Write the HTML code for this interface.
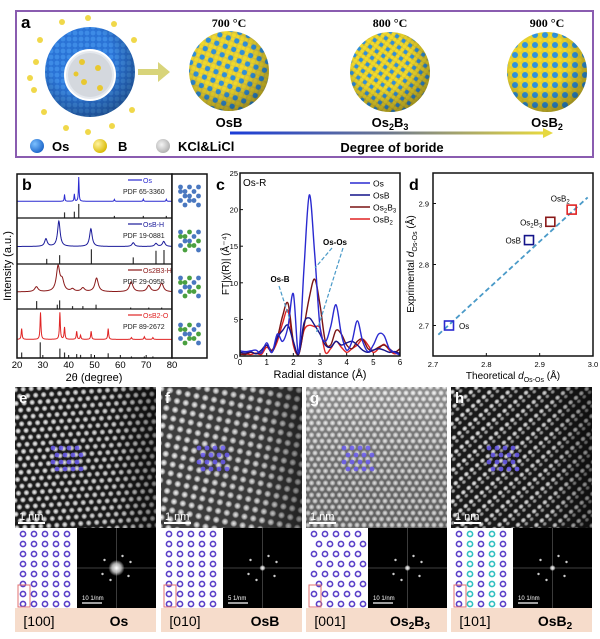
<!DOCTYPE html>
<html><head><meta charset="utf-8">
<style>
html,body{margin:0;padding:0;background:#fff;}
svg{display:block;font-family:"Liberation Sans",Arial,sans-serif;}
.serif{font-family:"Liberation Serif",serif;}
</style></head>
<body>
<svg id="fig" width="600" height="639" viewBox="0 0 600 639" xmlns="http://www.w3.org/2000/svg">
<defs>
  <pattern id="p-osb" width="9" height="9" patternUnits="userSpaceOnUse" patternTransform="rotate(20)">
    <rect width="9" height="9" fill="#d8c440"/>
    <circle cx="2.5" cy="2.5" r="2.6" fill="#2f8fd8"/>
    <circle cx="7" cy="7" r="2.2" fill="#f0d92a"/>
    <circle cx="7" cy="2" r="1.6" fill="#f0d92a"/>
    <circle cx="2" cy="7" r="1.6" fill="#f0d92a"/>
  </pattern>
  <pattern id="p-os2b3" width="8" height="8" patternUnits="userSpaceOnUse" patternTransform="rotate(35)">
    <rect width="8" height="8" fill="#c9b83c"/>
    <circle cx="2" cy="2" r="2" fill="#2f8fd8"/>
    <circle cx="6" cy="6" r="2.2" fill="#f0d92a"/>
    <circle cx="6" cy="2" r="1.8" fill="#f0d92a"/>
    <circle cx="2" cy="6" r="1.8" fill="#f0d92a"/>
  </pattern>
  <pattern id="p-osb2" width="10" height="10" patternUnits="userSpaceOnUse">
    <rect width="10" height="10" fill="#e6d030"/>
    <circle cx="5" cy="5" r="3" fill="#2f93dc"/>
    <circle cx="0" cy="0" r="1.8" fill="#f3dc2c"/>
    <circle cx="10" cy="0" r="1.8" fill="#f3dc2c"/>
    <circle cx="0" cy="10" r="1.8" fill="#f3dc2c"/>
    <circle cx="10" cy="10" r="1.8" fill="#f3dc2c"/>
    <circle cx="5" cy="0" r="1.5" fill="#f3dc2c"/>
    <circle cx="0" cy="5" r="1.5" fill="#f3dc2c"/>
  </pattern>
  <pattern id="p-shell" width="6" height="6" patternUnits="userSpaceOnUse">
    <rect width="6" height="6" fill="#2a73d6"/>
    <circle cx="3" cy="3" r="2.4" fill="#3d8be6"/>
  </pattern>
  <radialGradient id="shade" cx="0.4" cy="0.35" r="0.7">
    <stop offset="0.5" stop-color="#000" stop-opacity="0"/>
    <stop offset="1" stop-color="#000" stop-opacity="0.35"/>
  </radialGradient>
  <radialGradient id="ballB" cx="0.35" cy="0.35" r="0.7"><stop offset="0" stop-color="#fff3a0"/><stop offset="1" stop-color="#d8b800"/></radialGradient>
  <radialGradient id="ballOs" cx="0.35" cy="0.35" r="0.7"><stop offset="0" stop-color="#7cc0ff"/><stop offset="1" stop-color="#1a64c8"/></radialGradient>
  <radialGradient id="ballK" cx="0.4" cy="0.4" r="0.7"><stop offset="0" stop-color="#f4f4f4"/><stop offset="1" stop-color="#a8a8a8"/></radialGradient>
  <linearGradient id="boride" x1="0" x2="1"><stop offset="0" stop-color="#1a3cd8"/><stop offset="0.5" stop-color="#6d7890"/><stop offset="1" stop-color="#e6d840"/></linearGradient>
  <radialGradient id="atom" cx="0.5" cy="0.5" r="0.5"><stop offset="0" stop-color="#fff" stop-opacity="1"/><stop offset="0.55" stop-color="#ddd" stop-opacity="0.8"/><stop offset="1" stop-color="#fff" stop-opacity="0"/></radialGradient>
  <pattern id="tem-e" width="8" height="13.8" patternUnits="userSpaceOnUse" patternTransform="rotate(-4)">
    <rect width="8" height="13.8" fill="#1c1c1c"/>
    <circle cx="4" cy="3.45" r="3.1" fill="url(#atom)"/>
    <circle cx="0" cy="10.35" r="3.1" fill="url(#atom)"/><circle cx="8" cy="10.35" r="3.1" fill="url(#atom)"/>
  </pattern>
  <pattern id="tem-f" width="9" height="9" patternUnits="userSpaceOnUse" patternTransform="rotate(12)">
    <rect width="9" height="9" fill="#3e3e3e"/>
    <circle cx="4.5" cy="4.5" r="3.6" fill="url(#atom)"/>
  </pattern>
  <pattern id="tem-g" width="7" height="12" patternUnits="userSpaceOnUse">
    <rect width="7" height="12" fill="#6c6c6c"/>
    <circle cx="3.5" cy="3" r="3" fill="url(#atom)"/>
    <circle cx="0" cy="9" r="3" fill="url(#atom)"/><circle cx="7" cy="9" r="3" fill="url(#atom)"/>
  </pattern>
  <pattern id="tem-h" width="7" height="12" patternUnits="userSpaceOnUse" patternTransform="rotate(-40)">
    <rect width="7" height="12" fill="#1a1a1a"/>
    <ellipse cx="3.5" cy="3" rx="3" ry="2.6" fill="url(#atom)"/>
    <ellipse cx="3.5" cy="7.5" rx="2.6" ry="2.2" fill="url(#atom)" opacity="0.7"/>
  </pattern>
  <linearGradient id="vig" x1="0" x2="1"><stop offset="0" stop-color="#000" stop-opacity="0"/><stop offset="0.7" stop-color="#000" stop-opacity="0.1"/><stop offset="1" stop-color="#000" stop-opacity="0.45"/></linearGradient>
  <linearGradient id="vigg" x1="0" y1="0" x2="0" y2="1"><stop offset="0" stop-color="#fff" stop-opacity="0.25"/><stop offset="1" stop-color="#000" stop-opacity="0.1"/></linearGradient>
  <clipPath id="clipB"><rect x="17" y="174" width="155" height="184"/></clipPath>
  <clipPath id="clipC"><rect x="240" y="173" width="160" height="183"/></clipPath>
</defs>

<!-- ========== Panel a ========== -->
<g>
  <rect x="16" y="11" width="577" height="146" fill="#fff" stroke="#8a5cb0" stroke-width="2"/>
  <text x="21" y="28" font-size="17" font-weight="bold">a</text>
  <!-- core-shell precursor -->
  <g>
    <g fill="#f0d84a">
      <circle cx="40" cy="40" r="3"/><circle cx="62" cy="22" r="3"/><circle cx="88" cy="18" r="3"/><circle cx="114" cy="24" r="3"/><circle cx="134" cy="40" r="3"/>
      <circle cx="36" cy="62" r="3"/><circle cx="34" cy="90" r="3"/><circle cx="44" cy="112" r="3"/><circle cx="66" cy="128" r="3"/><circle cx="88" cy="132" r="3"/>
      <circle cx="112" cy="126" r="3"/><circle cx="132" cy="110" r="3"/><circle cx="30" cy="78" r="3"/>
    </g>
    <circle cx="90" cy="72" r="45" fill="url(#p-shell)"/>
    <circle cx="90" cy="72" r="45" fill="url(#shade)"/>
    <circle cx="90" cy="75" r="25" fill="#e4e8ee" stroke="#fff" stroke-width="2"/>
    <circle cx="90" cy="75" r="22" fill="#d4d8de"/>
    <g fill="#e8c830"><circle cx="82" cy="62" r="3"/><circle cx="98" cy="68" r="3"/><circle cx="84" cy="82" r="3"/><circle cx="100" cy="88" r="3"/><circle cx="76" cy="74" r="2.5"/></g>
  </g>
  <polygon points="138,69 158,69 158,62 170,72 158,82 158,75 138,75" fill="#d8d47a"/>
  <g>
    <circle cx="229" cy="71" r="40" fill="url(#p-osb)"/><circle cx="229" cy="71" r="40" fill="url(#shade)"/>
  </g>
  <g>
    <circle cx="390" cy="72" r="40" fill="url(#p-os2b3)"/><circle cx="390" cy="72" r="40" fill="url(#shade)"/>
  </g>
  <g>
    <circle cx="547" cy="72" r="40" fill="url(#p-osb2)"/><circle cx="547" cy="72" r="40" fill="url(#shade)"/>
  </g>
  <g class="serif" font-size="12" font-weight="bold" text-anchor="middle">
    <text x="229" y="27">700 °C</text>
    <text x="390" y="27">800 °C</text>
    <text x="547" y="27">900 °C</text>
  </g>
  <g font-size="13" font-weight="bold" text-anchor="middle">
    <text x="229" y="127">OsB</text>
    <text x="390" y="127">Os<tspan font-size="9" dy="3">2</tspan><tspan dy="-3">B</tspan><tspan font-size="9" dy="3">3</tspan></text>
    <text x="547" y="127">OsB<tspan font-size="9" dy="3">2</tspan></text>
  </g>
  <rect x="230" y="131.5" width="314" height="3" fill="url(#boride)"/>
  <polygon points="543,128 553,133 543,138" fill="#e6d840"/>
  <circle cx="37" cy="146" r="7" fill="url(#ballOs)"/>
  <text x="52" y="151" font-size="13" font-weight="bold">Os</text>
  <circle cx="100" cy="146" r="7" fill="url(#ballB)"/>
  <text x="118" y="151" font-size="13" font-weight="bold">B</text>
  <circle cx="163" cy="146" r="7" fill="url(#ballK)"/>
  <text x="178" y="151" font-size="13" font-weight="bold">KCl&amp;LiCl</text>
  <text x="392" y="152" font-size="13" font-weight="bold" text-anchor="middle">Degree of boride</text>
</g>

<g id="panelB"></g>
<g id="panelC"></g>
<g id="panelD"></g>
<g id="panelTEM"></g>
</svg>

<script>
const NS = "http://www.w3.org/2000/svg";
const svg = document.getElementById("fig");
function mk(parent, tag, attrs, text) {
  const e = document.createElementNS(NS, tag);
  for (const k in attrs) e.setAttribute(k, attrs[k]);
  if (text !== undefined) e.textContent = text;
  parent.appendChild(e);
  return e;
}

/* ===== Panel b data (XRD) ===== */
const xrdNames = ["Os", "OsB-H", "Os2B3-H", "OsB2-O"];
const xrdPDF = ["PDF 65-3360", "PDF 19-0881", "PDF 29-0955", "PDF 89-2672"];
const xrdPeaksOs = [38.4, 42.2, 43.9, 57.7, 68.9, 77.8];
const xrdHeightsOs = [0.28, 0.3, 1.0, 0.08, 0.09, 0.08];
const xrdPeaksOsB = [31.2, 36.2, 48.6, 65.0, 73.8, 76.8];
const xrdHeightsOsB = [0.3, 1.0, 0.7, 0.15, 0.12, 0.2];
const xrdPeaksOs2B3 = [27.5, 35.9, 37.5, 41.5, 45.5, 50.8, 64.2, 71.0, 76.0];
const xrdHeightsOs2B3 = [0.2, 1.0, 0.4, 0.1, 0.15, 0.55, 0.4, 0.25, 0.35];
const xrdPeaksOsB2 = [21.8, 29.1, 36.6, 38.4, 43.1, 44.6, 48.7, 55.3, 64.3, 69.3, 72.6];
const xrdHeightsOsB2 = [0.4, 1.0, 1.0, 0.45, 0.3, 0.15, 0.3, 0.4, 0.07, 0.1, 0.07];
const xrdSticksOs = [38.4, 42.2, 43.9, 57.7, 68.9, 77.8];
const xrdStickHOs = [0.4, 0.45, 1.0, 0.15, 0.15, 0.15];
const xrdSticksOsB = [31.5, 36.5, 48.8, 65.0, 73.8, 76.9];
const xrdStickHOsB = [0.35, 0.6, 1.0, 0.45, 0.9, 0.95];
const xrdSticksOs2B3 = [27.6, 35.6, 36.5, 41.5, 45.5, 50.6, 64.0, 71.0, 76.0];
const xrdStickHOs2B3 = [0.55, 0.3, 0.6, 0.2, 0.2, 0.3, 0.1, 0.1, 0.1];
const xrdSticksOsB2 = [21.8, 29.0, 36.6, 38.4, 43.1, 44.6, 48.7, 55.3, 64.3, 69.3, 72.6];
const xrdStickHOsB2 = [0.35, 1.0, 0.6, 0.35, 0.25, 0.2, 0.25, 0.3, 0.1, 0.1, 0.1];
const xrdColors = ["#2a2ad0", "#1a1a9a", "#8a1818", "#e02424"];
const xrdXTicks = [20, 30, 40, 50, 60, 70, 80];

(function () {
  const g = document.getElementById("panelB");
  const L = 17, R = 172, T = 174, B = 358;
  const x = v => L + (v - 20) / 60 * (R - L);
  const bounds = [174, 218, 264, 309, 358];
  const peaks = [xrdPeaksOs, xrdPeaksOsB, xrdPeaksOs2B3, xrdPeaksOsB2];
  const hts = [xrdHeightsOs, xrdHeightsOsB, xrdHeightsOs2B3, xrdHeightsOsB2];
  const sticks = [xrdSticksOs, xrdSticksOsB, xrdSticksOs2B3, xrdSticksOsB2];
  const sth = [xrdStickHOs, xrdStickHOsB, xrdStickHOs2B3, xrdStickHOsB2];
  const widths = [0.15, 0.6, 0.8, 0.2];
  for (let i = 0; i < 4; i++) {
    const top = bounds[i], bot = bounds[i + 1], h = bot - top;
    const base = top + h * 0.62, amp = h * 0.55;
    let d = "";
    for (let t = 20; t <= 80; t += 0.1) {
      let s = 0;
      peaks[i].forEach((p, k) => { const w = widths[i]; s += hts[i][k] * w * w / ((t - p) * (t - p) + w * w); });
      d += (d ? "L" : "M") + x(t).toFixed(2) + "," + (base - s * amp).toFixed(2);
    }
    const c = mk(g, "path", { d: d, fill: "none", stroke: xrdColors[i], "stroke-width": 1, "clip-path": "url(#clipB)" });
    
    
    sticks[i].forEach((p, k) => {
      const s = mk(g, "line", { x1: x(p), x2: x(p), y1: bot, y2: bot - sth[i][k] * h * 0.32, stroke: "#333", "stroke-width": 1.2 });
      
      
    });
    if (i > 0) mk(g, "line", { x1: L, x2: R, y1: top, y2: top, stroke: "#111", "stroke-width": 1.2 });
    const lx = 128, ly = top + 9;
    mk(g, "line", { x1: lx, x2: lx + 14, y1: ly - 3, y2: ly - 3, stroke: xrdColors[i], "stroke-width": 1.2 });
    const nm = xrdNames[i];
    const lt = mk(g, "text", { x: lx + 15, y: ly, "font-size": 7, fill: xrdColors[i] }, nm);
    
    
    const pt = mk(g, "text", { x: 123, y: ly + 11, "font-size": 7, fill: "#222" }, xrdPDF[i]);
    
    
  }
  mk(g, "rect", { x: L, y: T, width: R - L, height: B - T, fill: "none", stroke: "#111", "stroke-width": 1.5 });
  mk(g, "rect", { x: R, y: T, width: 35, height: B - T, fill: "#fff", stroke: "#111", "stroke-width": 1.5 });
  // crystal structure icons
  const cy = [196, 241, 287, 334];
  cy.forEach((yc, i) => {
    const gg = mk(g, "g", {});
    
    
    for (let a = 0; a < 14; a++) {
      const dx = ((a * 7) % 5 - 2) * 4.5, dy = (Math.floor(a / 3) - 2) * 4.5;
      mk(gg, "circle", { cx: 189.5 + dx, cy: yc + dy, r: 2.4, fill: (i > 0 && a % 2) ? "#4aa040" : "#4a78c0" });
    }
  });
  const bl = mk(g, "text", { x: 22, y: 190, "font-size": 16, "font-weight": "bold" }, "b");
  
  
  xrdXTicks.forEach(v => {
    mk(g, "line", { x1: x(v), x2: x(v), y1: B, y2: B - 3, stroke: "#111" });
    const t = mk(g, "text", { x: x(v), y: 368, "font-size": 9.5, "text-anchor": "middle" }, v);
    
    
  });
  const xt = mk(g, "text", { x: 94, y: 381, "font-size": 11, "text-anchor": "middle" }, "2θ (degree)");
  
  
  const yt = mk(g, "text", { x: 11, y: 266, "font-size": 11, "text-anchor": "middle", transform: "rotate(-90 11 266)" }, "Intensity (a.u.)");
  
  
})();

/* ===== Panel c data (EXAFS) ===== */
const exafsR = [0,0.2,0.4,0.6,0.8,1.0,1.2,1.4,1.6,1.8,2.0,2.2,2.4,2.6,2.8,3.0,3.2,3.4,3.6,3.8,4.0,4.2,4.4,4.6,4.8,5.0,5.2,5.4,5.6,5.8,6.0];
const exafsOs = [0.7,0.6,0.7,0.8,0.4,1.8,0.5,3.0,2.0,4.0,8.5,0.4,12,22,14,4,2,4,7,3,0.8,2,4.8,2,0.6,1.5,3,2.8,1,0.5,0.1];
const exafsOsB = [0.5,0.4,0.6,0.3,0.8,1.5,0.5,2.5,3.5,4.2,2.0,0.3,4.5,5.2,4.2,3.0,1.5,1.2,2.0,1.5,1.8,2.0,1.5,0.8,0.5,0.8,1.0,0.8,0.5,0.6,0.3];
const exafsOs2B3 = [0.3,0.2,0.5,0.3,0.5,1.5,0.8,2.5,5.5,7.2,2.0,0.2,4.0,8.0,10.5,7.0,2.0,1.5,3.5,3.0,1.5,1.0,2.0,2.3,1.0,0.8,1.2,1.5,1.0,0.5,1.0];
const exafsOsB2 = [0.2,0.3,0.2,0.4,0.2,1.2,0.6,2.0,4.5,6.2,1.5,0.3,3.5,4.2,4.0,3.8,0.5,1.0,2.0,1.2,0.5,1.0,1.5,2.3,1.5,0.5,1.0,1.6,0.8,0.3,0.5];
const exafsNames = ["Os", "OsB", "Os2B3", "OsB2"];
const exafsColors = ["#2a2ad0", "#14148a", "#7a1414", "#e02424"];
const exafsYTicks = [0, 5, 10, 15, 20, 25];
const exafsXTicks = [0, 1, 2, 3, 4, 5, 6];

(function () {
  const g = document.getElementById("panelC");
  const L = 240, R = 400, T = 173, B = 356;
  const x = v => L + v / 6 * (R - L);
  const y = v => B - v / 25 * (B - T);
  const series = [exafsOs, exafsOsB, exafsOs2B3, exafsOsB2];
  function smooth(xs, ys) {
    const p = xs.map((v, i) => [x(v), y(ys[i])]);
    let d = "M" + p[0][0] + "," + p[0][1];
    for (let i = 0; i < p.length - 1; i++) {
      const p0 = p[Math.max(0, i - 1)], p1 = p[i], p2 = p[i + 1], p3 = p[Math.min(p.length - 1, i + 2)];
      const c1 = [p1[0] + (p2[0] - p0[0]) / 6, p1[1] + (p2[1] - p0[1]) / 6];
      const c2 = [p2[0] - (p3[0] - p1[0]) / 6, p2[1] - (p3[1] - p1[1]) / 6];
      d += "C" + c1.join(",") + " " + c2.join(",") + " " + p2.join(",");
    }
    return d;
  }
  [3, 2, 1, 0].forEach(i => {
    const c = mk(g, "path", { d: smooth(exafsR, series[i]), fill: "none", stroke: exafsColors[i], "stroke-width": 1.4, "clip-path": "url(#clipC)" });
    
    
  });
  mk(g, "rect", { x: L, y: T, width: R - L, height: B - T, fill: "none", stroke: "#111", "stroke-width": 1.5 });
  exafsYTicks.forEach(v => {
    mk(g, "line", { x1: L, x2: L + 3, y1: y(v), y2: y(v), stroke: "#111" });
    const t = mk(g, "text", { x: L - 2, y: y(v) + 3, "font-size": 7.5, "text-anchor": "end" }, v);
    
    
  });
  exafsXTicks.forEach(v => {
    mk(g, "line", { x1: x(v), x2: x(v), y1: B, y2: B - 3, stroke: "#111" });
    const t = mk(g, "text", { x: x(v), y: 365, "font-size": 8, "text-anchor": "middle" }, v);
    
    
  });
  const xt = mk(g, "text", { x: 320, y: 378, "font-size": 11, "text-anchor": "middle" }, "Radial distance (Å)");
  
  
  const yt = mk(g, "text", { x: 229, y: 264, "font-size": 10, "text-anchor": "middle", transform: "rotate(-90 229 264)" }, "FT|χ(R)| (Å⁻⁴)");
  
  
  const cl = mk(g, "text", { x: 216, y: 190, "font-size": 16, "font-weight": "bold" }, "c");
  
  
  const osr = mk(g, "text", { x: 243, y: 186, "font-size": 10 }, "Os-R");
  
  
  exafsNames.forEach((n, i) => {
    const ly = 183 + i * 12;
    mk(g, "line", { x1: 350, x2: 370, y1: ly, y2: ly, stroke: exafsColors[i], "stroke-width": 1.5 });
    const t = mk(g, "text", { x: 373, y: ly + 3.5, "font-size": 8.5 });
    if (n === "Os2B3") { t.innerHTML = 'Os<tspan font-size="6" dy="2">2</tspan><tspan dy="-2">B</tspan><tspan font-size="6" dy="2">3</tspan>'; }
    else if (n === "OsB2") { t.innerHTML = 'OsB<tspan font-size="6" dy="2">2</tspan>'; }
    else t.textContent = n;
    
    
  });
  const a1 = mk(g, "text", { x: 335, y: 245, "font-size": 8, "font-weight": "bold", "text-anchor": "middle" }, "Os-Os");
  
  
  const a2 = mk(g, "text", { x: 280, y: 282, "font-size": 8, "font-weight": "bold", "text-anchor": "middle" }, "Os-B");
  
  
  const dash = { stroke: "#4a9ac8", "stroke-width": 1.2, "stroke-dasharray": "4,2", fill: "none" };
  mk(g, "line", Object.assign({ x1: 332, y1: 248, x2: 315, y2: 268 }, dash));
  mk(g, "line", Object.assign({ x1: 343, y1: 248, x2: 316, y2: 334 }, dash));
  mk(g, "line", Object.assign({ x1: 279, y1: 286, x2: 290, y2: 320 }, dash));
})();

/* ===== Panel d data ===== */
const dLabels = ["Os", "OsB", "Os2B3", "OsB2"];
const dTheoretical = [2.73, 2.88, 2.92, 2.96];
const dExperimental = [2.70, 2.84, 2.87, 2.89];
const dColors = ["#2a2ad0", "#14148a", "#8a1818", "#e02424"];
const dFitX = [2.71, 2.99];
const dFitY = [2.685, 2.91];
const dXTicks = [2.7, 2.8, 2.9, 3.0];
const dYTicks = [2.7, 2.8, 2.9];

(function () {
  const g = document.getElementById("panelD");
  const L = 433, R = 593, T = 173, B = 356;
  const x = v => L + (v - 2.7) / 0.3 * (R - L);
  const y = v => B - (v - 2.65) / 0.3 * (B - T);
  mk(g, "rect", { x: L, y: T, width: R - L, height: B - T, fill: "#fff", stroke: "#111", "stroke-width": 1.5 });
  const fl = mk(g, "line", { x1: x(dFitX[0]), y1: y(dFitY[0]), x2: x(dFitX[1]), y2: y(dFitY[1]), stroke: "#4a9ac8", "stroke-width": 1.8, "stroke-dasharray": "5,3" });
  
  
  dTheoretical.forEach((v, i) => {
    const r = mk(g, "rect", { x: x(v) - 4.5, y: y(dExperimental[i]) - 4.5, width: 9, height: 9, fill: "none", stroke: dColors[i], "stroke-width": 1.6 });
    
    
    const n = dLabels[i];
    let tx, ty, anchor;
    if (i === 0) { tx = x(v) + 10; ty = y(dExperimental[i]) + 3.5; anchor = "start"; }
    else if (i === 3) { tx = x(v) - 2; ty = y(dExperimental[i]) - 8; anchor = "end"; }
    else { tx = x(v) - 8; ty = y(dExperimental[i]) + 3.5; anchor = "end"; }
    const t = mk(g, "text", { x: tx, y: ty, "font-size": 8, "text-anchor": anchor });
    if (n === "Os2B3") t.innerHTML = 'Os<tspan font-size="6" dy="2">2</tspan><tspan dy="-2">B</tspan><tspan font-size="6" dy="2">3</tspan>';
    else if (n === "OsB2") t.innerHTML = 'OsB<tspan font-size="6" dy="2">2</tspan>';
    else t.textContent = n;
    
    
  });
  dXTicks.forEach(v => {
    mk(g, "line", { x1: x(v), x2: x(v), y1: B, y2: B - 3, stroke: "#111" });
    const t = mk(g, "text", { x: x(v), y: 367, "font-size": 7.5, "text-anchor": "middle" }, v.toFixed(1));
    
    
  });
  dYTicks.forEach(v => {
    mk(g, "line", { x1: L, x2: L + 3, y1: y(v), y2: y(v), stroke: "#111" });
    const t = mk(g, "text", { x: L - 4, y: y(v) + 3, "font-size": 7.5, "text-anchor": "end" }, v.toFixed(1));
    
    
  });
  const xt = mk(g, "text", { x: 513, y: 379, "font-size": 10, "text-anchor": "middle" });
  xt.innerHTML = 'Theoretical <tspan font-style="italic">d</tspan><tspan font-size="7" dy="3">Os-Os</tspan><tspan dy="-3"> (Å)</tspan>';
  
  
  const yt = mk(g, "text", { x: 414, y: 264, "font-size": 10, "text-anchor": "middle", transform: "rotate(-90 414 264)" });
  yt.innerHTML = 'Exprimental <tspan font-style="italic">d</tspan><tspan font-size="7" dy="3">Os-Os</tspan><tspan dy="-3"> (Å)</tspan>';
  
  
  const dl = mk(g, "text", { x: 409, y: 190, "font-size": 16, "font-weight": "bold" }, "d");
  
  
})();

/* ===== TEM panels ===== */
const temLetters = ["e", "f", "g", "h"];
const temZone = ["[100]", "[010]", "[001]", "[101]"];
const temPhase = ["Os", "OsB", "Os2B3", "OsB2"];
const temFFTScale = ["10 1/nm", "5 1/nm", "10 1/nm", "10 1/nm"];
(function () {
  const g = document.getElementById("panelTEM");
  const X = [15, 161, 306, 451], W = 141;
  const pats = ["tem-e", "tem-f", "tem-g", "tem-h"];
  X.forEach((x0, i) => {
    const pg = mk(g, "g", {});
    
    
    const img = mk(pg, "rect", { x: x0, y: 387, width: W, height: 141, fill: "url(#" + pats[i] + ")" });
    
    
    mk(pg, "rect", { x: x0, y: 387, width: W, height: 141, fill: i === 2 ? "url(#vigg)" : "url(#vig)" });
    // overlay atoms
    const ox = x0 + 38, oy = 468;
    for (let r = 0; r < 4; r++) for (let c = 0; c < 4; c++)
      mk(pg, "circle", { cx: ox + c * 8 + (r % 2) * 4, cy: oy - 20 + r * 7, r: 2.4, fill: "#6a5cf0", opacity: 0.85 });
    mk(pg, "text", { x: x0 + 4, y: 403, "font-size": 15, "font-weight": "bold", fill: "#fff" }, temLetters[i]);
    mk(pg, "line", { x1: x0 + 3, x2: x0 + 30, y1: 523, y2: 523, stroke: "#fff", "stroke-width": 2 });
    mk(pg, "text", { x: x0 + 4, y: 520, "font-size": 11, fill: "#fff" }, "1 nm");
    // schematic
    mk(pg, "rect", { x: x0, y: 528, width: 62, height: 80, fill: "#fff" });
    for (let r = 0; r < 8; r++) for (let c = 0; c < 5; c++)
      mk(pg, "circle", { cx: x0 + 8 + c * 11 + (i === 2 ? (r % 2) * 5 : 0), cy: 534 + r * 10, r: 2.6, fill: "none", stroke: (i === 3 && c % 2) ? "#30c0c0" : "#5a40c8", "stroke-width": 1.6 });
    mk(pg, "rect", { x: x0 + 3, y: 585, width: 12, height: 22, fill: "none", stroke: "#e07070", "stroke-width": 1 });
    // FFT
    mk(pg, "rect", { x: x0 + 62, y: 528, width: W - 62, height: 80, fill: "#000" });
    const cx = x0 + 62 + (W - 62) / 2, cyy = 568;
    mk(pg, "line", { x1: x0 + 62, x2: x0 + W, y1: cyy, y2: cyy, stroke: "#555", "stroke-width": 0.7 });
    mk(pg, "line", { x1: cx, x2: cx, y1: 528, y2: 608, stroke: "#555", "stroke-width": 0.7 });
    mk(pg, "circle", { cx: cx, cy: cyy, r: i === 0 ? 8 : 3, fill: "url(#atom)" });
    [[-12, -8], [12, 8], [-6, 12], [6, -12], [-14, 6], [14, -6]].forEach(p => mk(pg, "circle", { cx: cx + p[0], cy: cyy + p[1], r: 1.2, fill: "#ccc" }));
    mk(pg, "line", { x1: x0 + 67, x2: x0 + 87, y1: 603, y2: 603, stroke: "#fff", "stroke-width": 1.2 });
    mk(pg, "text", { x: x0 + 67, y: 600, "font-size": 6, fill: "#fff" }, temFFTScale[i]);
    // label bar
    mk(pg, "rect", { x: x0, y: 608, width: W, height: 24, fill: "#f6dccb" });
    const z = mk(pg, "text", { x: x0 + 24, y: 626, "font-size": 14, "text-anchor": "middle" }, temZone[i]);
    
    
    const ph = mk(pg, "text", { x: x0 + 104, y: 626, "font-size": 14, "font-weight": "bold", "text-anchor": "middle" });
    if (temPhase[i] === "Os2B3") ph.innerHTML = 'Os<tspan font-size="10" dy="3">2</tspan><tspan dy="-3">B</tspan><tspan font-size="10" dy="3">3</tspan>';
    else if (temPhase[i] === "OsB2") ph.innerHTML = 'OsB<tspan font-size="10" dy="3">2</tspan>';
    else ph.textContent = temPhase[i];
    
    
  });
})();
</script>
</body></html>
